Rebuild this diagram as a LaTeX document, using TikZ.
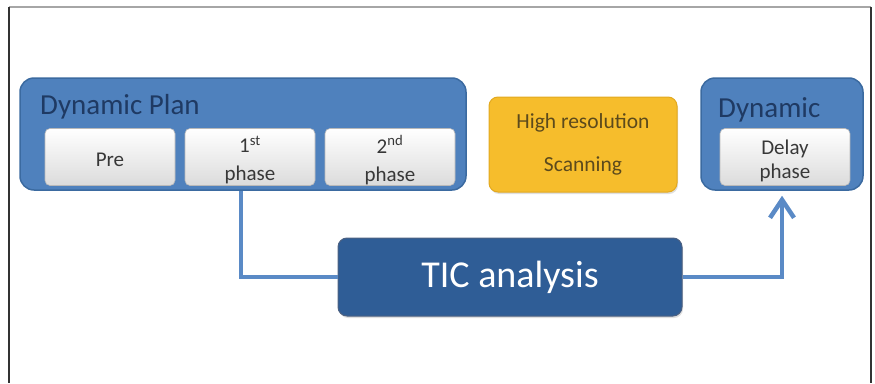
\documentclass[tikz,border=0pt]{standalone}
\usepackage{fontspec}
\setmainfont{Carlito}
\usetikzlibrary{arrows.meta,shadows,calc}
\definecolor{midblue}{HTML}{4F81BD}
\definecolor{edgeblue}{HTML}{3B6AA0}
\definecolor{navy}{HTML}{1F3A63}
\definecolor{darkblue}{HTML}{2F5D96}
\definecolor{gold}{HTML}{F6BD2C}
\definecolor{goldedge}{HTML}{E2A920}
\definecolor{brown}{HTML}{5C4A1C}
\definecolor{lnblue}{HTML}{5A8AC6}
\tikzset{
  group/.style={draw=edgeblue, line width=1.5pt, fill=midblue, rounded corners=14pt},
  btn/.style={draw=gray!55, line width=0.6pt, rounded corners=5pt, top color=white, bottom color=gray!28,
    minimum width=130pt, minimum height=57pt, inner sep=0pt},
  btntext/.style={align=center, text=black!78, inner sep=0pt, yshift=-3pt,
    font=\fontsize{21}{28}\selectfont},
  title/.style={anchor=base west, text=navy, font=\fontsize{29}{33}\selectfont, inner sep=0pt},
  conn/.style={draw=lnblue, line width=4.5pt},
}
\begin{document}
\begin{tikzpicture}[x=1pt,y=-1pt]
\useasboundingbox (0,0) rectangle (875,383);
% frame
\draw[gray!70, line width=1.2pt] (9,7) -- (871,7);
\draw[black!80, line width=1.4pt] (9,7) -- (9,383);
\draw[black!80, line width=1.4pt] (871,7) -- (871,383);
% Dynamic Plan group
\node[group, minimum width=446pt, minimum height=112pt, inner sep=0pt] (plan) at (243,134) {};
\node[title] (plantitle) at (40,114) {Dynamic Plan};
\node[btn, label={[btntext]center:Pre}] (pre) at (110,157) {};
\node[btn, label={[btntext]center:{1\textsuperscript{st}\\phase}}] (p1) at (250,157) {};
\node[btn, label={[btntext]center:{2\textsuperscript{nd}\\phase}}] (p2) at (390,157) {};
% High resolution
\node[draw=goldedge, line width=1pt, fill=gold, rounded corners=9pt, minimum width=188pt, minimum height=95pt,
  inner sep=0pt, align=center, text=brown, font=\fontsize{21.5}{43}\selectfont,
  drop shadow={opacity=0.25, shadow xshift=1pt, shadow yshift=-2pt}] (hr) at (583,144.5) {High resolution\\Scanning};
% Dynamic group
\node[group, minimum width=162pt, minimum height=112pt, inner sep=0pt] (dyn) at (782,134) {};
\node[title] (dyntitle) at (718,117) {Dynamic};
\node[btn, label={[btntext, font=\fontsize{21}{24}\selectfont, yshift=-1pt]center:{Delay\\phase}}] (delay) at (785,157) {};
% TIC analysis
\node[draw=navy!80, line width=1pt, fill=darkblue, rounded corners=9pt, minimum width=344pt, minimum height=78pt,
  inner sep=0pt, text=white, font=\fontsize{38}{42}\selectfont,
  drop shadow={opacity=0.25, shadow xshift=1pt, shadow yshift=-2pt}] (tic) at (510,277) {TIC analysis};
% connectors
\coordinate (c1) at (241,191);
\draw[conn] (c1) |- (tic.west);
\draw[conn, shorten >=5pt, -{Straight Barb[length=18pt,width=24pt,line width=4.5pt]}] (tic.east) -| (dyn.south);
\end{tikzpicture}
\end{document}
